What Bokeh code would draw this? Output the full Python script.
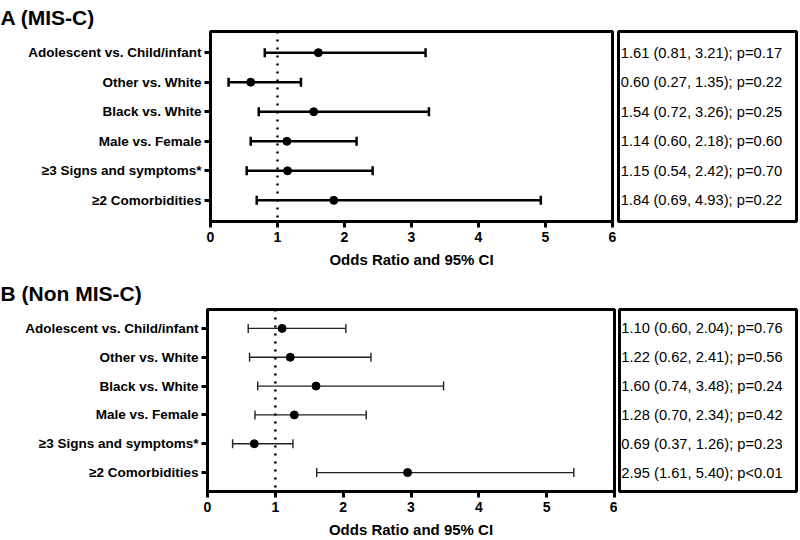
from bokeh.plotting import figure
from bokeh.models import ColumnDataSource, Whisker, TeeHead, FactorRange, Range1d, FixedTicker, Span, Title
from bokeh.layouts import column, row
from bokeh.core.properties import value
from bokeh.embed import file_html
from bokeh.resources import INLINE

labels = ["Adolescent vs. Child/infant", "Other vs. White", "Black vs. White",
          "Male vs. Female", "\u22653 Signs and symptoms*", "\u22652 Comorbidities"]
x_ticks = [0, 1, 2, 3, 4, 5, 6]

misc_or = [1.61, 0.60, 1.54, 1.14, 1.15, 1.84]
misc_lo = [0.81, 0.27, 0.72, 0.60, 0.54, 0.69]
misc_hi = [3.21, 1.35, 3.26, 2.18, 2.42, 4.93]
misc_p = ["=0.17", "=0.22", "=0.25", "=0.60", "=0.70", "=0.22"]

non_or = [1.10, 1.22, 1.60, 1.28, 0.69, 2.95]
non_lo = [0.60, 0.62, 0.74, 0.70, 0.37, 1.61]
non_hi = [2.04, 2.41, 3.48, 2.34, 1.26, 5.40]
non_p = ["=0.76", "=0.56", "=0.24", "=0.42", "=0.23", "<0.01"]

FONT = "Liberation Sans"


def panel(title, ors, los, his, ps, lw, lcolor, left, frame_w, right, height, top, bottom,
          pad, box_w, title_standoff):
    txt = [f"{o:.2f} ({l:.2f}, {h:.2f}); p{q}" for o, l, h, q in zip(ors, los, his, ps)]
    src = ColumnDataSource(dict(label=labels, o=ors, lo=los, hi=his, txt=txt))
    yr = FactorRange(factors=list(reversed(labels)), range_padding=pad)

    p = figure(width=left + frame_w + right, height=height, x_range=Range1d(0, 6), y_range=yr,
               output_backend="svg", toolbar_location=None,
               min_border_left=left, min_border_right=right,
               min_border_top=top, min_border_bottom=bottom)
    p.add_layout(Title(text=title, align="left", offset=-left, standoff=title_standoff,
                       text_font=FONT, text_font_size="21px", text_font_style="bold",
                       text_color="black"), "above")
    p.grid.visible = False
    p.outline_line_color = "black"
    p.outline_line_width = 3
    p.outline_line_alpha = 1

    p.add_layout(Span(location=1, dimension="height", line_color="black",
                      line_width=2.5, line_dash="2 6"))
    w = Whisker(source=src, base="label", lower="lo", upper="hi", dimension="width",
                line_color=lcolor, line_width=lw,
                lower_head=TeeHead(size=9, line_color=lcolor, line_width=lw),
                upper_head=TeeHead(size=9, line_color=lcolor, line_width=lw))
    p.add_layout(w)
    p.scatter(x="o", y="label", source=src, size=8, color="black")

    for ax in (p.xaxis[0], p.yaxis[0]):
        ax.axis_line_width = 3
        ax.axis_line_color = "black"
        ax.major_tick_line_width = 3
        ax.major_tick_line_color = "black"
        ax.major_tick_out = 6
        ax.major_tick_in = 0
        ax.minor_tick_line_color = None
        ax.major_label_text_font = FONT
        ax.major_label_text_font_style = "bold"
        ax.major_label_text_color = "black"
    p.xaxis.ticker = FixedTicker(ticks=x_ticks)
    p.xaxis.major_label_text_font_size = "14px"
    p.xaxis.major_label_standoff = 4
    p.xaxis.axis_label = "Odds Ratio and 95% CI"
    p.xaxis.axis_label_text_font = FONT
    p.xaxis.axis_label_text_font_style = "bold"
    p.xaxis.axis_label_text_font_size = "15px"
    p.xaxis.axis_label_text_color = "black"
    p.xaxis.axis_label_standoff = 6
    p.yaxis.major_label_text_font_size = "13.5px"
    p.yaxis.major_label_standoff = 3

    t = figure(width=box_w, height=height, x_range=Range1d(0, 1), y_range=yr,
               output_backend="svg", toolbar_location=None,
               x_axis_location=None, y_axis_location=None,
               min_border_left=2, min_border_right=2,
               min_border_top=top, min_border_bottom=bottom)
    t.grid.visible = False
    t.outline_line_color = "black"
    t.outline_line_width = 3
    t.outline_line_alpha = 1
    t.text(x=0.466, y="label", text="txt", source=src, text_align="center",
           text_baseline="middle", text_font=value(FONT), text_font_size="14.7px",
           text_color="black")
    return row(p, t)


rA = panel("A (MIS-C)", misc_or, misc_lo, misc_hi, misc_p, 2.5, "black",
           210, 402, 4, 270, 30, 47, 0.072, 182, 6)
rB = panel("B (Non MIS-C)", non_or, non_lo, non_hi, non_p, 1.4, "#222222",
           207, 407, 3, 270, 39, 46, 0.052, 181, 10)

layout = column(rA, rB)
open("out.html", "w").write(file_html(layout, INLINE))
